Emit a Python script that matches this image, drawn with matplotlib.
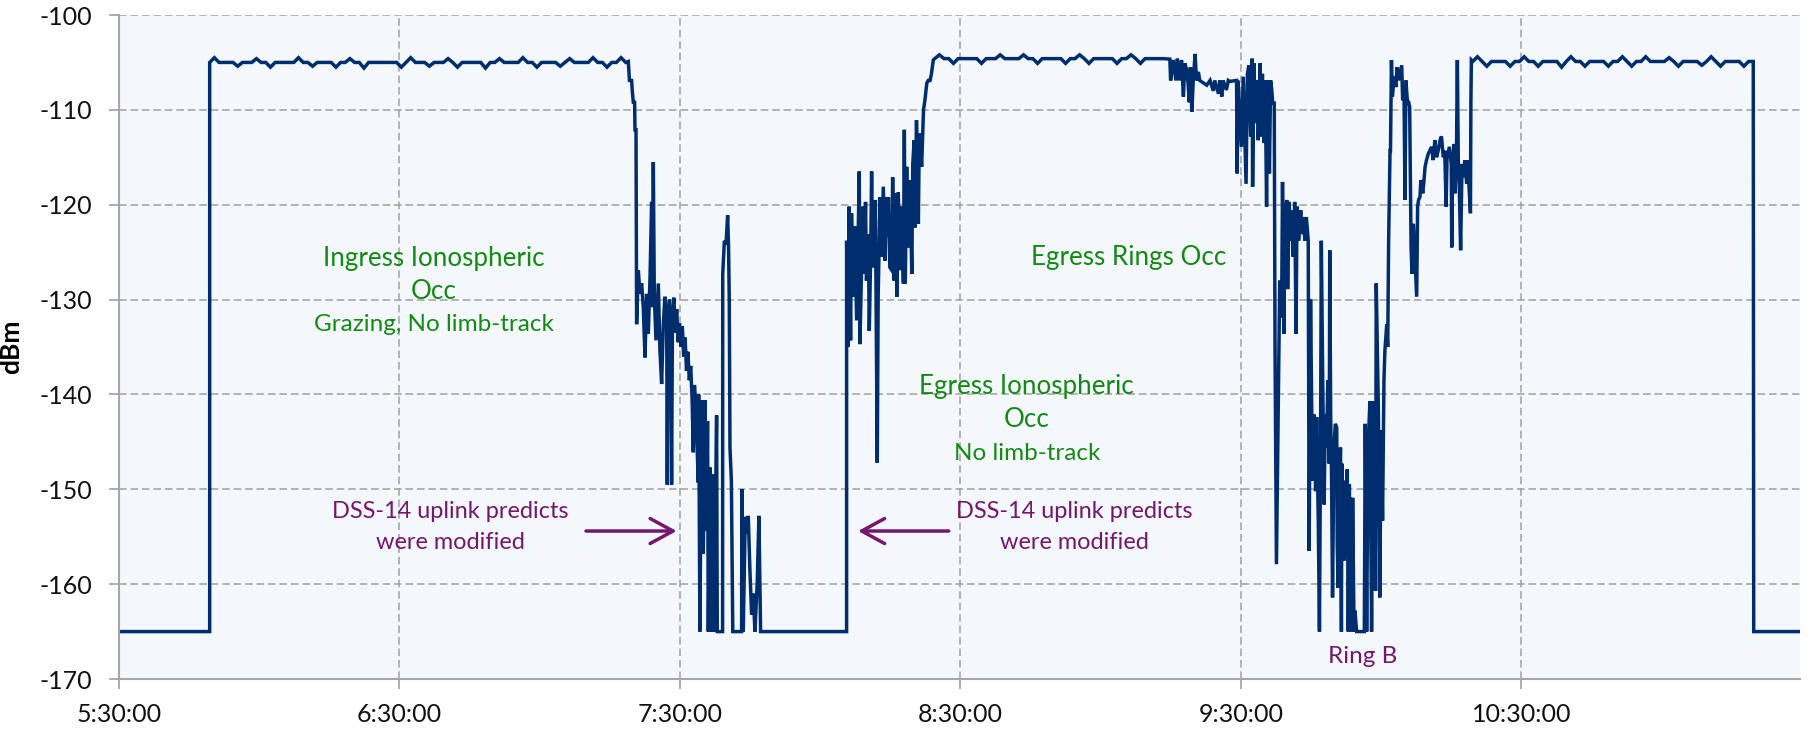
import numpy as np
import matplotlib.pyplot as plt
from matplotlib.ticker import FuncFormatter, MultipleLocator

plt.rcParams['font.family'] = ['Lato', 'DejaVu Sans']
plt.rcParams['axes.unicode_minus'] = False

# time axis: minutes after 05:30:00, received signal level in dBm
lock_t = [0.0, 19.4]
lock_v = [-165.0, -165.0]

# first carrier plateau, one reading per minute from 19.4 min
plateau1_start = 19.4
plateau1_v = [
    -105.0, -104.5, -105.0, -105.0, -105.0, -105.0, -105.4, -105.0, -105.0, -105.0,
    -104.6, -105.0, -105.0, -105.5, -105.0, -105.0, -105.0, -105.0, -105.0, -104.5,
    -105.0, -105.0, -105.4, -105.0, -105.0, -105.0, -105.0, -105.5, -105.0, -105.0,
    -104.6, -105.0, -105.0, -105.6, -105.0, -105.0, -105.0, -105.0, -105.0, -105.0,
    -105.0, -105.5, -105.0, -104.5, -105.0, -105.0, -105.0, -105.4, -105.0, -105.0,
    -105.0, -104.6, -105.0, -105.5, -105.0, -105.0, -105.0, -105.0, -105.0, -105.6,
    -105.0, -105.0, -104.6, -105.0, -105.0, -105.0, -105.0, -104.5, -105.0, -105.0,
    -105.5, -105.0, -105.0, -105.0, -105.0, -105.4, -105.0, -104.6, -105.0, -105.0,
    -105.0, -105.0, -104.5, -105.0, -105.0, -105.5, -105.0, -105.0, -104.5, -105.0,
]

ingress = [
    (108.95, -104.9), (109.2, -106.9), (109.66, -106.9), (109.8, -108.0), (110.02, -109.2),
    (110.3, -109.2), (110.38, -112.1), (110.6, -112.1), (110.73, -132.6), (111.09, -126.9),
    (111.45, -129.4), (111.8, -128.3), (112.16, -130.8), (112.52, -136.1), (112.87, -129.4),
    (113.23, -133.6), (113.59, -127.8), (113.94, -119.7), (114.16, -130.8), (114.3, -115.5),
    (114.51, -129.4), (114.87, -134.3), (115.37, -128.3), (115.72, -135.4), (116.08, -138.9),
    (116.44, -132.6), (116.79, -129.7), (117.0, -131.5), (117.15, -130.5), (117.29, -149.5),
    (117.45, -132.0), (117.75, -130.0), (118.0, -133.5), (118.21, -149.5), (118.4, -131.5),
    (118.7, -129.8), (119.0, -133.5), (119.3, -131.0), (119.6, -134.5), (119.9, -132.5),
    (120.2, -135.0), (120.5, -132.8), (120.8, -136.0), (121.1, -134.0), (121.4, -137.5),
    (121.7, -135.5), (122.0, -138.5), (122.3, -137.0), (122.6, -140.5), (122.85, -146.1),
    (123.1, -139.0), (123.4, -141.5), (123.92, -149.3), (124.0, -140.0), (124.27, -165.0),
    (124.63, -140.6), (124.99, -156.8), (125.34, -140.6), (125.7, -154.4), (125.9, -142.8),
    (126.06, -165.0), (126.41, -147.7), (126.77, -165.0), (126.98, -148.4), (127.27, -165.0),
    (127.84, -142.2), (127.98, -165.0), (129.12, -165.0), (129.15, -127.3), (129.5, -123.8),
    (129.85, -124.2), (130.2, -121.1), (130.4, -124.5), (130.55, -130.1), (130.7, -145.6),
    (131.0, -149.1), (131.3, -165.0), (133.19, -165.0), (133.25, -150.0), (133.54, -165.0),
    (133.97, -152.9), (134.26, -154.7), (134.61, -152.8), (134.97, -158.6), (135.33, -163.2),
    (135.68, -161.0), (136.04, -165.0), (136.54, -159.7), (136.89, -152.8), (137.25, -165.0),
    (155.65, -165.0),
]

egress = [
    (155.65, -123.8), (156.0, -135.0), (156.2, -120.2), (156.5, -134.3), (156.7, -120.9),
    (157.1, -129.7), (157.4, -122.3), (157.8, -132.2), (158.36, -116.5), (158.5, -134.7),
    (158.9, -125.5), (159.2, -120.2), (159.4, -127.3), (159.7, -119.7), (159.9, -128.0),
    (160.3, -123.1), (160.5, -133.3), (160.8, -125.2), (161.0, -116.5), (161.2, -126.6),
    (161.5, -123.8), (161.8, -119.5), (162.21, -147.2), (162.4, -129.7), (162.8, -119.2),
    (163.1, -125.5), (163.5, -118.1), (163.9, -125.9), (164.1, -119.2), (164.4, -123.4),
    (164.6, -119.2), (164.9, -126.6), (165.3, -126.9), (165.5, -117.1), (165.8, -128.0),
    (166.1, -118.8), (166.4, -129.7), (166.7, -118.7), (167.1, -126.9), (167.4, -120.2),
    (167.8, -128.3), (168.0, -112.1), (168.2, -128.3), (168.5, -116.0), (168.8, -124.5),
    (169.2, -117.4), (169.6, -127.3), (169.8, -115.7), (170.1, -113.2), (170.3, -122.4),
    (170.6, -111.1), (171.0, -122.0), (171.2, -112.5), (171.5, -114.3), (171.7, -116.0),
    (172.1, -110.0), (172.4, -109.0), (172.8, -107.2), (173.1, -106.9), (173.5, -106.9),
    (173.8, -106.2), (174.19, -104.75),
]

# second plateau, one reading per minute from 174.5 min
plateau2_start = 174.5
plateau2_v = [
    -104.6, -104.2, -104.6, -104.6, -105.1, -104.6, -104.6, -104.6, -104.6, -104.6,
    -105.1, -104.6, -104.6, -104.6, -104.2, -104.6, -104.6, -104.6, -104.6, -104.2,
    -104.6, -104.6, -105.1, -104.6, -104.6, -104.6, -104.6, -104.6, -105.1, -104.6,
    -104.6, -104.2, -104.6, -105.1, -104.6, -104.6, -104.6, -104.6, -104.6, -105.1,
    -104.6, -104.6, -104.2, -104.6, -105.1, -104.6, -104.6, -104.6, -104.6, -104.6,
]

rings = [
    (224.8, -104.65), (224.96, -106.9), (225.5, -104.75), (226.1, -106.9), (226.4, -104.6),
    (226.8, -106.9), (227.3, -104.75), (227.7, -108.6), (228.0, -105.1), (228.4, -105.8),
    (228.7, -107.2), (228.95, -109.2), (229.2, -105.5), (229.5, -110.2), (229.8, -106.9),
    (230.2, -104.1), (230.5, -106.9), (230.9, -106.0), (231.2, -106.9), (232.7, -107.4),
    (233.4, -106.9), (234.1, -108.0), (234.4, -106.9), (235.2, -108.3), (235.5, -106.9),
    (235.9, -108.6), (236.2, -106.9), (236.9, -107.9), (237.3, -106.9), (237.65, -107.0),
    (239.07, -106.9), (239.2, -116.7), (239.4, -106.9), (240.1, -113.9), (240.5, -106.5),
    (241.1, -117.8), (241.4, -106.2), (241.7, -105.3), (242.1, -112.8), (242.4, -104.6),
    (242.5, -118.1), (242.8, -105.1), (243.1, -111.4), (243.5, -106.9), (243.7, -113.2),
    (244.1, -105.1), (244.35, -112.8), (244.6, -106.2), (244.9, -113.5), (245.2, -106.9),
    (245.49, -120.2), (245.7, -106.9), (246.1, -116.7), (246.35, -106.9), (246.6, -107.9),
    (246.8, -109.3), (247.13, -109.3), (247.3, -135.4), (247.6, -157.9), (248.3, -128.0),
    (248.7, -131.9), (248.9, -117.6), (249.2, -133.6), (249.4, -121.7), (249.8, -119.5),
    (250.0, -128.9), (250.3, -119.7), (250.6, -123.8), (250.8, -120.6), (251.2, -125.5),
    (251.5, -119.7), (251.8, -133.6), (252.0, -120.2), (252.4, -123.8), (252.8, -120.6),
    (253.0, -123.1), (253.3, -121.3), (253.7, -123.8), (254.0, -121.3), (254.4, -123.8),
    (254.6, -156.5), (254.9, -130.0), (255.3, -149.1), (255.6, -142.1), (255.98, -150.2),
    (256.2, -142.4), (256.55, -153.3), (256.8, -165.0), (257.05, -143.8), (257.2, -123.8),
    (257.5, -138.5), (257.8, -151.6), (258.05, -142.1), (258.3, -145.6), (258.6, -138.5),
    (258.9, -147.3), (259.0, -124.8), (259.2, -142.1), (259.4, -149.1), (259.6, -161.4),
    (259.9, -145.6), (260.2, -143.1), (260.5, -143.5), (260.6, -155.8), (260.8, -160.4),
    (261.0, -152.6), (261.3, -145.6), (261.5, -165.0), (261.6, -147.3), (261.9, -152.6),
    (262.1, -157.5), (262.25, -149.1), (262.5, -156.8), (262.75, -147.9), (262.96, -165.0),
    (263.2, -149.5), (263.3, -161.4), (263.5, -150.9), (263.75, -165.0), (263.9, -150.9),
    (264.2, -165.0), (264.4, -162.8), (264.75, -165.0), (266.4, -165.0), (266.6, -143.1),
    (266.9, -165.0), (267.2, -145.6), (267.6, -140.7), (267.95, -165.0), (268.2, -146.6),
    (268.45, -140.7), (268.8, -160.7), (268.95, -128.3), (269.4, -141.4), (269.7, -161.4),
    (270.0, -143.8), (270.3, -153.3), (270.6, -138.5), (270.8, -135.4), (271.2, -132.6),
    (271.4, -135.0), (271.6, -123.8), (271.9, -114.3), (272.0, -114.3), (272.2, -104.75),
    (272.4, -108.6), (272.8, -106.5), (273.15, -107.6), (273.4, -105.5), (273.7, -106.9),
    (274.0, -106.2), (274.4, -105.3), (274.6, -109.0), (274.9, -108.6), (275.1, -119.5),
    (275.3, -106.9), (275.6, -109.0), (275.9, -109.2), (276.1, -109.7), (276.4, -124.5),
    (276.6, -127.3), (276.9, -122.0), (277.2, -125.2), (277.6, -129.7), (277.8, -120.2),
    (278.0, -119.5), (278.3, -119.2), (278.5, -117.4), (278.9, -118.8), (279.1, -117.8),
    (279.4, -116.0), (279.7, -115.3), (280.1, -114.6), (280.4, -114.3), (280.8, -113.9),
    (281.1, -115.3), (281.5, -113.2), (281.85, -115.0), (282.2, -114.3), (282.6, -113.2),
    (282.9, -112.8), (283.3, -115.0), (283.6, -114.3), (283.9, -120.2), (284.1, -115.0),
    (284.6, -113.9), (285.0, -115.7), (285.1, -124.5), (285.3, -115.7), (285.6, -113.6),
    (285.8, -118.8), (286.1, -115.0), (286.3, -104.75), (286.5, -115.3), (286.7, -117.8),
    (287.0, -124.8), (287.3, -115.7), (287.6, -117.1), (287.9, -115.3), (288.3, -117.8),
    (288.6, -115.3), (288.8, -118.1), (289.1, -120.9), (289.2, -109.0), (289.3, -104.75),
]

# third plateau, one reading per minute from 289.6 min
plateau3_start = 289.6
plateau3_v = [
    -104.9, -104.4, -104.9, -105.4, -104.9, -104.9, -104.9, -104.9, -105.4, -104.9,
    -104.9, -104.4, -104.9, -104.9, -105.4, -104.9, -104.9, -104.9, -104.9, -105.5,
    -104.9, -104.4, -104.9, -104.9, -105.4, -104.9, -104.9, -104.9, -104.9, -105.4,
    -104.9, -104.9, -104.4, -104.9, -105.4, -104.9, -104.9, -104.4, -104.9, -104.9,
    -104.9, -104.9, -104.5, -104.9, -105.4, -104.9, -104.9, -104.9, -104.9, -105.3,
    -104.9, -104.4, -104.9, -105.4, -104.9, -104.9, -104.9, -104.9, -105.4, -104.9,
    -104.9,
]

los_t = [349.7, 360.0]
los_v = [-165.0, -165.0]


def pairs(seq):
    return [p[0] for p in seq], [p[1] for p in seq]


segments = [
    (lock_t, lock_v),
    (plateau1_start + np.arange(len(plateau1_v)), plateau1_v),
    pairs(ingress),
    pairs(egress),
    (plateau2_start + np.arange(len(plateau2_v)), plateau2_v),
    pairs(rings),
    (plateau3_start + np.arange(len(plateau3_v)), plateau3_v),
    (los_t, los_v),
]
t_all = np.concatenate([np.asarray(s[0], float) for s in segments])
v_all = np.concatenate([np.asarray(s[1], float) for s in segments])

green = '#138a13'
purple = '#74176e'
navy = '#002d6e'

fig = plt.figure(figsize=(18.1, 7.35), dpi=100)
ax = fig.add_axes([119 / 1810, 1 - 679 / 735, (1800 - 119) / 1810, (679 - 15) / 735])
ax.set_facecolor('#f4f8fc')

ax.plot(t_all, v_all, color=navy, lw=2.5, solid_joinstyle='miter')

ax.set_xlim(0, 359.6)
ax.set_ylim(-170, -100)
ax.yaxis.set_major_locator(MultipleLocator(10))


def clock(m, pos):
    total = int(round(5 * 60 + 30 + m))
    return f"{total // 60}:{total % 60:02d}:00"


ax.set_xticks([0, 60, 120, 180, 240, 300])
ax.xaxis.set_major_formatter(FuncFormatter(clock))

ax.grid(True, color='#a0a0a0', lw=1.1, ls=(0, (5, 2.5)))
ax.set_axisbelow(True)
for s in ['top', 'right']:
    ax.spines[s].set_visible(False)
for s in ['left', 'bottom']:
    ax.spines[s].set_color('#a6a6a6')
    ax.spines[s].set_linewidth(1.5)
ax.tick_params(axis='both', direction='out', length=7, width=1.3, color='#a6a6a6',
               labelsize=18, labelcolor='#111111')
ax.tick_params(axis='y', pad=12)
ax.tick_params(axis='x', pad=10)

ax.set_ylabel('dBm', fontsize=19, fontweight='bold')
ax.yaxis.set_label_coords(-0.057, 0.5)

# annotations
ax.text(67.4, -125.7, 'Ingress Ionospheric', color=green, fontsize=18.7, ha='center', va='center')
ax.text(67.4, -129.1, 'Occ', color=green, fontsize=18.7, ha='center', va='center')
ax.text(67.4, -132.6, 'Grazing, No limb-track', color=green, fontsize=17.5, ha='center', va='center')
ax.text(216.0, -125.6, 'Egress Rings Occ', color=green, fontsize=18.7, ha='center', va='center')
ax.text(194.2, -139.2, 'Egress Ionospheric', color=green, fontsize=18.7, ha='center', va='center')
ax.text(194.2, -142.6, 'Occ', color=green, fontsize=18.7, ha='center', va='center')
ax.text(194.2, -146.2, 'No limb-track', color=green, fontsize=17.5, ha='center', va='center')

ax.text(70.9, -152.3, 'DSS-14 uplink predicts', color=purple, fontsize=16.9, ha='center', va='center')
ax.text(70.9, -155.6, 'were modified', color=purple, fontsize=16.9, ha='center', va='center')
ax.text(204.4, -152.3, 'DSS-14 uplink predicts', color=purple, fontsize=16.9, ha='center', va='center')
ax.text(204.4, -155.6, 'were modified', color=purple, fontsize=16.9, ha='center', va='center')
ax.text(266.0, -167.6, 'Ring B', color=purple, fontsize=17.5, ha='center', va='center')

arrow = dict(arrowstyle='->,head_length=0.55,head_width=0.3', color=purple, lw=2.5,
             mutation_scale=30, shrinkA=0, shrinkB=0)
ax.annotate('', xy=(119.3, -154.4), xytext=(99.9, -154.4), arrowprops=arrow)
ax.annotate('', xy=(158.1, -154.4), xytext=(177.5, -154.4), arrowprops=arrow)

fig.savefig('out.png', dpi=100, facecolor='white')
